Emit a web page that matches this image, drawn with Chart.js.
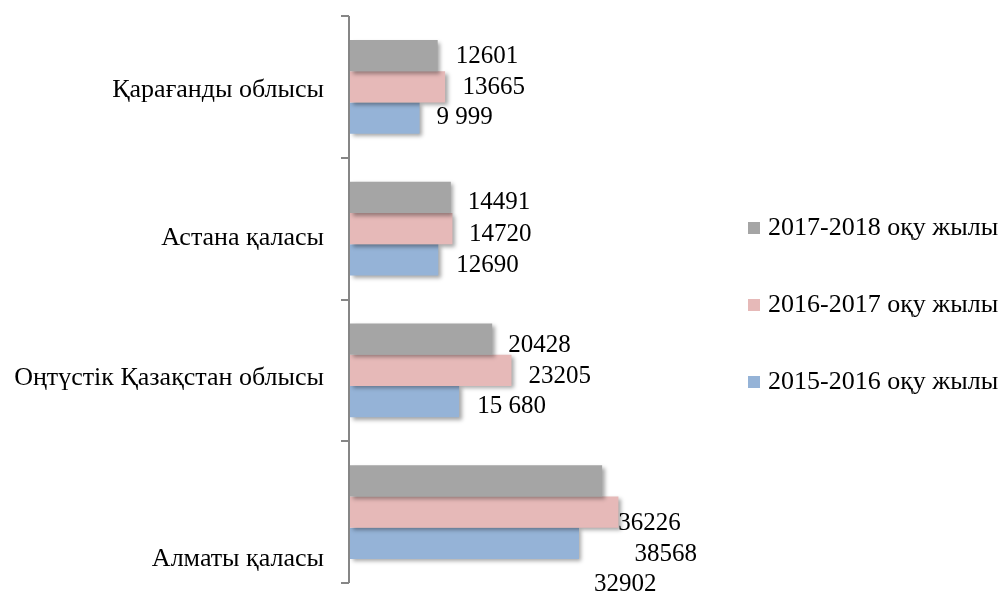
<!DOCTYPE html>
<html>
<head>
<meta charset="utf-8">
<script src="https://cdn.jsdelivr.net/npm/chart.js@4.4.1/dist/chart.umd.min.js"></script>
<style>
  html, body { margin: 0; padding: 0; background: #ffffff; }
  #wrap { width: 1005px; height: 596px; }
</style>
</head>
<body>
<div id="wrap"><canvas id="c" width="1005" height="596"></canvas></div>
<script>
const categories = ['Қарағанды облысы', 'Астана қаласы', 'Оңтүстік Қазақстан облысы', 'Алматы қаласы'];
const seriesNames = ['2017-2018 оқу жылы', '2016-2017 оқу жылы', '2015-2016 оқу жылы'];
const values2017 = [12601, 14491, 20428, 36226];
const values2016 = [13665, 14720, 23205, 38568];
const values2015 = [9999, 12690, 15680, 32902];
const labels2017 = ['12601', '14491', '20428', '36226'];
const labels2016 = ['13665', '14720', '23205', '38568'];
const labels2015 = ['9 999', '12690', '15 680', '32902'];
const colors = ['#A5A5A5', '#E6B9B8', '#95B3D7'];

const FONT_TEXT = '26px "Liberation Serif", "Times New Roman", serif';
const FONT_NUM = '25px "Liberation Serif", "Times New Roman", serif';

// label offsets [dx from bar end, dy from bar centre] per dataset, per category
const labelOffsets = [
  [[18, 0.5], [17, 5], [16, 6], [16, 42.5]],
  [[17.5, 1], [16.5, 6], [17, 6], [16, 42]],
  [[17, -0.5], [18, 5.5], [18, 5], [15, 41]]
];
const catLabelY = [90, 238, 378, 559];

const shadowPlugin = {
  id: 'barShadow',
  beforeDatasetsDraw(chart) {
    const ctx = chart.ctx;
    ctx.save();
    ctx.shadowColor = 'rgba(0,0,0,0.35)';
    ctx.shadowBlur = 4;
    ctx.shadowOffsetX = 2.5;
    ctx.shadowOffsetY = 2.5;
  },
  afterDatasetsDraw(chart) {
    chart.ctx.restore();
  }
};

const decorPlugin = {
  id: 'decor',
  afterDraw(chart) {
    const ctx = chart.ctx;
    const area = chart.chartArea;
    ctx.save();
    // axis line and ticks
    ctx.strokeStyle = '#868686';
    ctx.lineWidth = 2;
    const ax = area.left - 1;
    ctx.beginPath();
    ctx.moveTo(ax, area.top);
    ctx.lineTo(ax, area.bottom);
    const n = categories.length;
    const band = (area.bottom - area.top) / n;
    for (let i = 0; i <= n; i++) {
      const ty = Math.round(area.top + band * i);
      ctx.moveTo(ax - 8, ty);
      ctx.lineTo(ax, ty);
    }
    ctx.stroke();

    // category labels
    ctx.font = FONT_TEXT;
    ctx.fillStyle = '#000000';
    ctx.textAlign = 'right';
    ctx.textBaseline = 'middle';
    categories.forEach((c, i) => {
      ctx.fillText(c, 324, catLabelY[i]);
    });

    // data labels
    const allLabels = [labels2017, labels2016, labels2015];
    ctx.font = FONT_NUM;
    ctx.textAlign = 'left';
    chart.data.datasets.forEach((ds, di) => {
      const meta = chart.getDatasetMeta(di);
      meta.data.forEach((bar, j) => {
        const off = labelOffsets[di][j];
        ctx.fillText(allLabels[di][j], bar.x + off[0], bar.y + off[1]);
      });
    });

    // legend
    ctx.font = FONT_TEXT;
    const legendY = [228, 305, 382];
    chart.data.datasets.forEach((ds, di) => {
      ctx.fillStyle = ds.backgroundColor;
      ctx.fillRect(748, legendY[di] - 6, 12, 12);
      ctx.fillStyle = '#000000';
      ctx.fillText(ds.label, 768, legendY[di]);
    });
    ctx.restore();
  }
};

new Chart(document.getElementById('c'), {
  type: 'bar',
  data: {
    labels: categories,
    datasets: [
      { label: seriesNames[0], data: values2017, backgroundColor: colors[0] },
      { label: seriesNames[1], data: values2016, backgroundColor: colors[1] },
      { label: seriesNames[2], data: values2015, backgroundColor: colors[2] }
    ]
  },
  options: {
    indexAxis: 'y',
    responsive: false,
    animation: false,
    layout: { padding: { left: 350, right: 307, top: 16, bottom: 13 } },
    datasets: { bar: { categoryPercentage: 0.66, barPercentage: 1.0, borderWidth: 0 } },
    scales: {
      x: { display: false, min: 0, max: 50000 },
      y: { display: false }
    },
    plugins: {
      legend: { display: false },
      tooltip: { enabled: false }
    }
  },
  plugins: [shadowPlugin, decorPlugin]
});
</script>
</body>
</html>
